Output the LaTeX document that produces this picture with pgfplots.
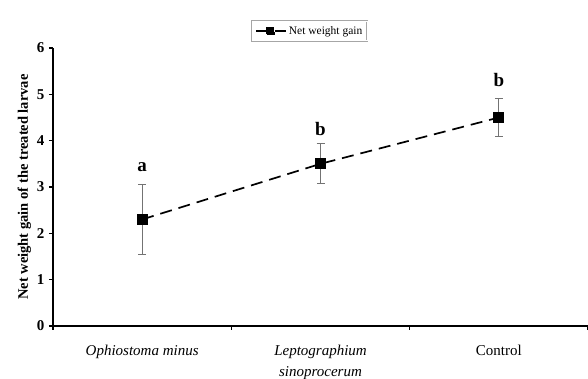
\documentclass[border=0pt]{standalone}
\usepackage{pgfplots}
\pgfplotsset{compat=1.18}
\usepackage{fontspec}
\setmainfont{Liberation Serif}
\begin{document}
\begin{tikzpicture}
\begin{axis}[
  name=ax,
  scale only axis,
  width=535pt, height=278pt,
  xmin=-0.5, xmax=2.5,
  ymin=0, ymax=6,
  axis x line=bottom, axis y line=left,
  axis line style={-, line width=1.2pt},
  xtick={-0.5,0.5,1.5,2.5},
  xticklabels={},
  extra x ticks={0,1,2},
  extra x tick labels={\textit{Ophiostoma minus},\textit{Leptographium}\\\textit{sinoprocerum},Control},
  extra x tick style={major tick length=0pt, tick label style={align=center, font=\fontsize{15}{21}\selectfont, yshift=-15.5pt}},
  ytick={0,1,2,3,4,5,6},
  tick style={black, line width=1.1pt},
  major tick length=4pt,
  xtick align=outside, ytick align=outside,
  /pgf/number format/assume math mode=true,
  yticklabel style={font=\fontsize{15}{15}\selectfont\bfseries, xshift=-1pt},
  ylabel={\textbf{Net weight gain of the treated larvae}},
  ylabel style={font=\fontsize{14.5}{15}\selectfont, yshift=-1pt},
  legend style={at={(0.48,1.025)}, anchor=south, draw=gray!70, line width=0.8pt, double=white, font=\fontsize{11.5}{12}\selectfont, inner sep=3pt},
  legend image code/.code={
    \draw[black, line width=1.6pt] (0pt,0pt) -- (30pt,0pt);
    \fill[black] (11pt,-3.5pt) rectangle (18pt,3.5pt);
  },
  legend cell align=left,
]
\addplot[black, line width=1.7pt, dash pattern=on 12pt off 7pt,
  mark=square*, mark size=4.8pt, mark options={solid},
  error bars/.cd, y dir=both, y explicit,
  error bar style={gray!90!black, line width=1pt, solid},
  error mark options={rotate=90, mark size=4pt, gray!90!black, line width=1pt}]
  coordinates {(0,2.3) +- (0,0.75) (1,3.5) +- (0,0.43) (2,4.5) +- (0,0.4)};
\addlegendentry{Net weight gain}
\node[font=\fontsize{19}{19}\selectfont\bfseries] at (axis cs:0,3.42) {a};
\node[font=\fontsize{19}{19}\selectfont\bfseries] at (axis cs:1,4.25) {b};
\node[font=\fontsize{19}{19}\selectfont\bfseries] at (axis cs:2,5.3) {b};
\end{axis}
\pgfresetboundingbox
\path[use as bounding box] (ax.south west) ++(-53pt,-53pt) rectangle ([yshift=48pt]ax.north east);
\end{tikzpicture}
\end{document}
